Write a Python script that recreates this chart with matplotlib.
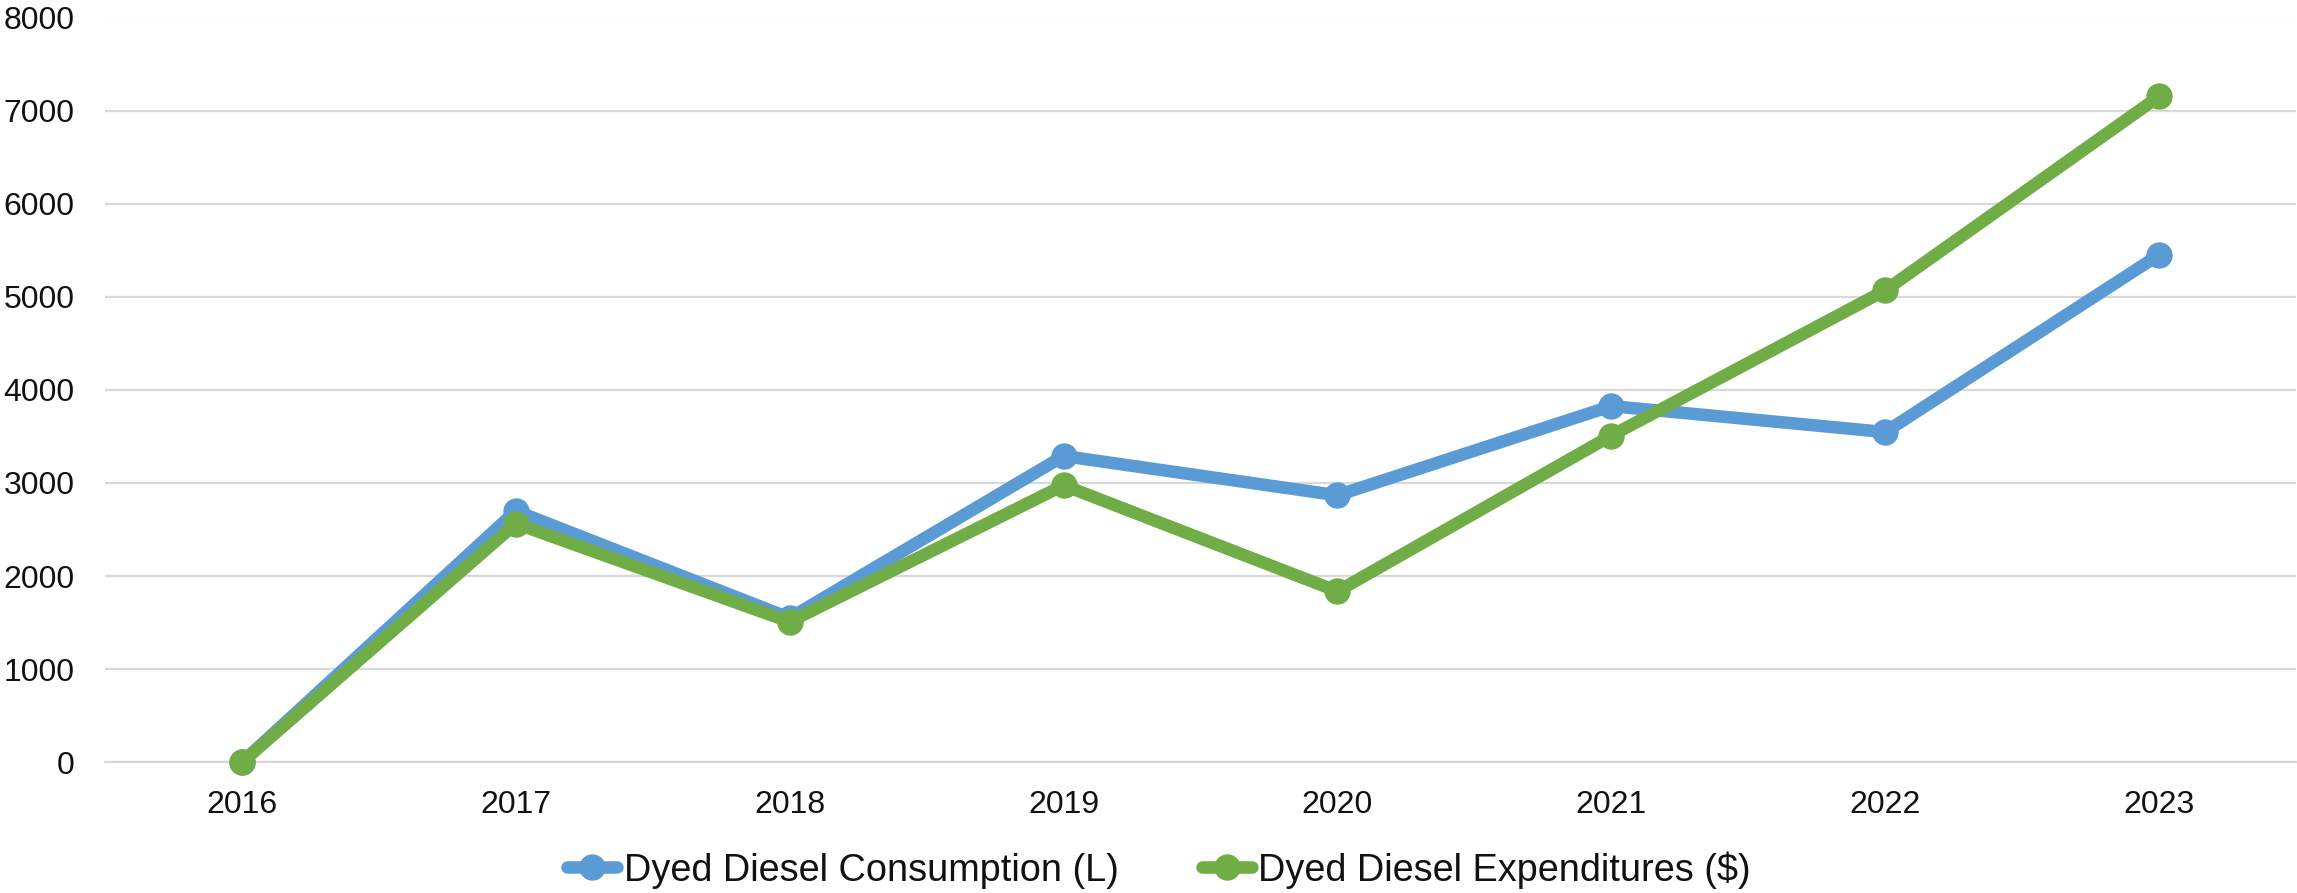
import matplotlib
matplotlib.use("Agg")
import matplotlib.pyplot as plt

years = ["2016", "2017", "2018", "2019", "2020", "2021", "2022", "2023"]
consumption = [0, 2700, 1550, 3290, 2868, 3826, 3547, 5451]
expenditures = [0, 2564, 1509, 2975, 1837, 3509, 5069, 7152]
series_names = ["Dyed Diesel Consumption (L)", "Dyed Diesel Expenditures ($)"]
yticks = [0, 1000, 2000, 3000, 4000, 5000, 6000, 7000, 8000]

plt.rcParams['font.family'] = ['Liberation Sans', 'DejaVu Sans']

W, H = 2297, 893
fig = plt.figure(figsize=(W / 100, H / 100), dpi=100)
ax = fig.add_axes([105 / W, 1 - 762.3 / H, (2296 - 105) / W, (762.3 - 17.5) / H])

x = list(range(len(years)))
blue = "#5B9BD5"
green = "#70AD47"
ax.plot(x, consumption, color=blue, lw=9, marker="o", ms=18,
        label=series_names[0], clip_on=False, zorder=3,
        solid_joinstyle="round", solid_capstyle="round")
ax.plot(x, expenditures, color=green, lw=9, marker="o", ms=18,
        label=series_names[1], clip_on=False, zorder=4,
        solid_joinstyle="round", solid_capstyle="round")

ax.set_xlim(-0.5, len(years) - 0.5)
ax.set_ylim(0, 8000)
ax.set_xticks(x)
ax.set_xticklabels(years)
ax.set_yticks(yticks)
ax.set_yticklabels([str(v) for v in yticks])
ax.tick_params(axis="both", length=0, labelsize=23, colors="#111111")
ax.tick_params(axis="y", pad=22)
ax.tick_params(axis="x", pad=20)
ax.grid(axis="y", color="#D9D9D9", lw=1.6, zorder=0)
ax.set_axisbelow(True)
for s in ["top", "right", "left"]:
    ax.spines[s].set_visible(False)
ax.spines["bottom"].set_color("#D9D9D9")
ax.spines["bottom"].set_linewidth(1.6)

fig.legend(loc="center", bbox_to_anchor=(1159 / W, 1 - 870 / H), ncol=2,
           frameon=False, fontsize=27.3, handlelength=1.33, handletextpad=0.16,
           columnspacing=2.2, borderpad=0, labelcolor="#111111")

fig.savefig("out.png", dpi=100)
